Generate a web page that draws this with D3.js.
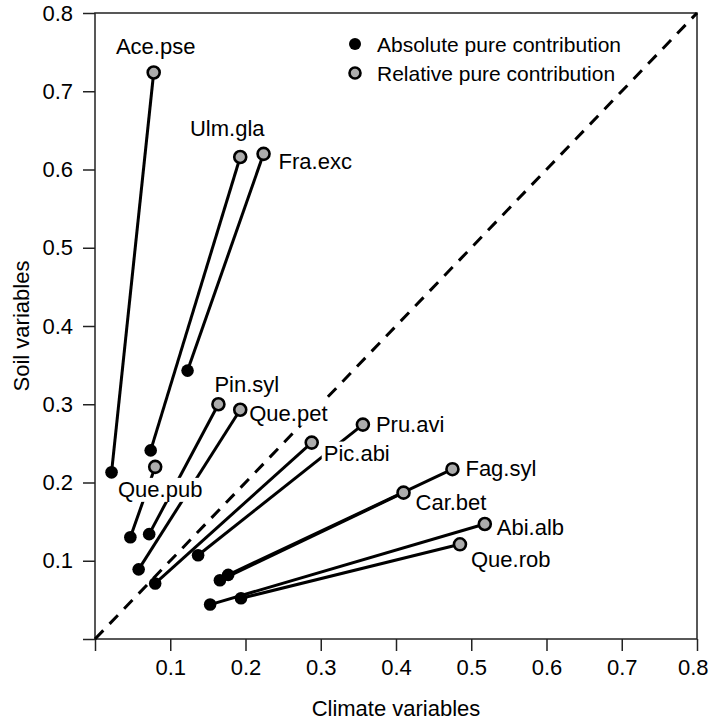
<!DOCTYPE html>
<html>
<head>
<meta charset="utf-8">
<script src="https://cdn.jsdelivr.net/npm/d3@7"></script>
<style>
  html, body { margin: 0; padding: 0; background: #fff; }
  svg { display: block; }
  text { font-family: "Liberation Sans", Arial, sans-serif; fill: #000; }
</style>
</head>
<body>
<svg id="chart" width="709" height="727"></svg>
<script>
// ---- data ----
const species    = ["Ace.pse","Ulm.gla","Fra.exc","Pin.syl","Que.pet","Que.pub","Pic.abi","Pru.avi","Fag.syl","Car.bet","Abi.alb","Que.rob"];
const absClimate = [0.022, 0.074, 0.123, 0.072, 0.058, 0.047, 0.080, 0.137, 0.177, 0.166, 0.153, 0.194];
const absSoil    = [0.213, 0.241, 0.343, 0.134, 0.089, 0.130, 0.071, 0.107, 0.082, 0.075, 0.044, 0.052];
const relClimate = [0.078, 0.193, 0.224, 0.164, 0.193, 0.080, 0.288, 0.356, 0.475, 0.410, 0.518, 0.485];
const relSoil    = [0.724, 0.616, 0.620, 0.300, 0.293, 0.220, 0.251, 0.274, 0.217, 0.187, 0.147, 0.121];
const tickValues = [0, 0.1, 0.2, 0.3, 0.4, 0.5, 0.6, 0.7, 0.8];
const legendLabels = ["Absolute pure contribution", "Relative pure contribution"];
const xTitle = "Climate variables";
const yTitle = "Soil variables";

// label placement (pixel offsets from the relative point)
const labelPlace = {
  "Ace.pse": {dx: 2,   dy: -18, anchor: "middle"},
  "Ulm.gla": {dx: -13, dy: -21, anchor: "middle"},
  "Fra.exc": {dx: 15,  dy: 15,  anchor: "start"},
  "Pin.syl": {dx: -4,  dy: -12, anchor: "start"},
  "Que.pet": {dx: 9,   dy: 11,  anchor: "start"},
  "Que.pub": {dx: 5,   dy: 30,  anchor: "middle"},
  "Pic.abi": {dx: 12,  dy: 18,  anchor: "start"},
  "Pru.avi": {dx: 13,  dy: 7,   anchor: "start"},
  "Fag.syl": {dx: 13,  dy: 7,   anchor: "start"},
  "Car.bet": {dx: 12,  dy: 17,  anchor: "start"},
  "Abi.alb": {dx: 12,  dy: 11,  anchor: "start"},
  "Que.rob": {dx: 11,  dy: 23,  anchor: "start"}
};

const rows = species.map((s, i) => ({
  name: s, ax: absClimate[i], ay: absSoil[i], rx: relClimate[i], ry: relSoil[i]
}));

const svg = d3.select("#chart");
const x = d3.scaleLinear().domain([0, 0.8]).range([95, 697]);
const y = d3.scaleLinear().domain([0, 0.8]).range([639, 13]);

const fmt = d => d === 0 ? "" : d3.format(".1f")(d);

// axes
const gx = svg.append("g").attr("transform", `translate(0,${y(0)})`)
  .call(d3.axisBottom(x).tickValues(tickValues).tickSize(12).tickSizeOuter(0).tickPadding(8).tickFormat(fmt));
const gy = svg.append("g").attr("transform", `translate(${x(0)},0)`)
  .call(d3.axisLeft(y).tickValues(tickValues).tickSize(12).tickSizeOuter(0).tickPadding(10).tickFormat(fmt));
[gx, gy].forEach(g => {
  g.select(".domain").remove();
  g.selectAll(".tick line").attr("stroke", "#222").attr("stroke-width", 1.5);
  g.selectAll(".tick text").attr("font-size", 22).attr("font-family", "Liberation Sans, Arial, sans-serif").attr("fill", "#000");
});
// keep the last x label inside the window
gx.selectAll(".tick").filter(d => d === 0.8).select("text").attr("text-anchor", "end").attr("x", 11);

// box
svg.append("rect")
  .attr("x", x(0)).attr("y", y(0.8))
  .attr("width", x(0.8) - x(0)).attr("height", y(0) - y(0.8))
  .attr("fill", "none").attr("stroke", "#222").attr("stroke-width", 1.5);

// axis titles
svg.append("text").attr("x", (x(0) + x(0.8)) / 2).attr("y", 716)
  .attr("text-anchor", "middle").attr("font-size", 22).text(xTitle);
svg.append("text").attr("transform", `translate(29,${(y(0) + y(0.8)) / 2}) rotate(-90)`)
  .attr("text-anchor", "middle").attr("font-size", 22).text(yTitle);

// 1:1 line
svg.append("line")
  .attr("x1", x(0)).attr("y1", y(0)).attr("x2", x(0.8)).attr("y2", y(0.8))
  .attr("stroke", "#000").attr("stroke-width", 3).attr("stroke-dasharray", "12,9");

// segments
svg.append("g").selectAll("line").data(rows).join("line")
  .attr("x1", d => x(d.ax)).attr("y1", d => y(d.ay))
  .attr("x2", d => x(d.rx)).attr("y2", d => y(d.ry))
  .attr("stroke", "#000").attr("stroke-width", 3);

// labels with white masks
const lg = svg.append("g");
rows.forEach(d => {
  const p = labelPlace[d.name];
  const t = lg.append("text")
    .attr("x", x(d.rx) + p.dx).attr("y", y(d.ry) + p.dy)
    .attr("text-anchor", p.anchor).attr("font-size", 22).text(d.name);
  const bb = t.node().getBBox();
  lg.insert("rect", "text")
    .attr("x", bb.x - 2).attr("y", bb.y + 1).attr("width", bb.width + 4).attr("height", bb.height - 1)
    .attr("fill", "#fff");
});

// points
svg.append("g").selectAll("circle").data(rows).join("circle")
  .attr("cx", d => x(d.ax)).attr("cy", d => y(d.ay)).attr("r", 6.3).attr("fill", "#000");
svg.append("g").selectAll("circle").data(rows).join("circle")
  .attr("cx", d => x(d.rx)).attr("cy", d => y(d.ry)).attr("r", 6)
  .attr("fill", "#acacac").attr("stroke", "#000").attr("stroke-width", 2.6);

// legend
const leg = svg.append("g");
leg.append("circle").attr("cx", 355).attr("cy", 44).attr("r", 6).attr("fill", "#000");
leg.append("circle").attr("cx", 355).attr("cy", 73).attr("r", 5.5)
  .attr("fill", "#acacac").attr("stroke", "#000").attr("stroke-width", 2.6);
legendLabels.forEach((l, i) => {
  leg.append("text").attr("x", 377).attr("y", 44 + i * 29 + 7.5)
    .attr("font-size", 21).text(l);
});
</script>
</body>
</html>
